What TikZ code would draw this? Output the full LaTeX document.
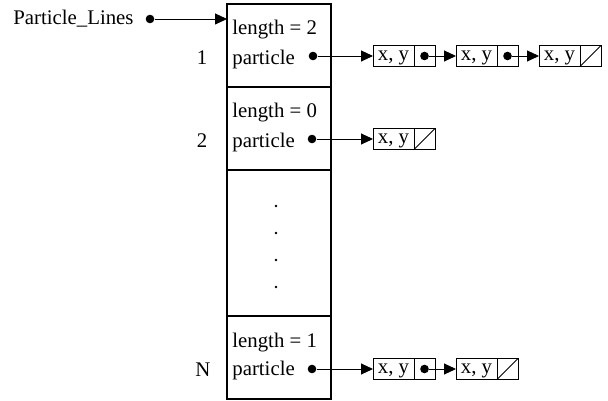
\documentclass[tikz,border=0pt]{standalone}
\usepackage{fontspec}
\setmainfont{Liberation Serif}
\usetikzlibrary{arrows.meta,positioning}
\tikzset{
  rowbox/.style={draw, line width=0.6pt, minimum width=52pt, minimum height=41.5pt, inner sep=0pt, outer sep=0pt},
  xycell/.style={draw, line width=0.45pt, minimum width=20.5pt, minimum height=10.5pt, inner sep=0pt, outer sep=0pt, text depth=0pt},
  ptrcell/.style={draw, line width=0.45pt, minimum width=10.5pt, minimum height=10.5pt, inner sep=0pt, outer sep=0pt},
  ptrdot/.style={circle, fill, inner sep=0pt, minimum size=4.3pt},
  link/.style={line width=0.45pt, -{Triangle[length=6pt, width=5.5pt]}}
}

\begin{document}
\begin{tikzpicture}[x=0.5pt, y=-0.5pt, font=\fontsize{10.4}{12}\selectfont]
    \useasboundingbox (0,0) rectangle (608,400);

    % the array of lines
    \node[rowbox, anchor=north west] (row1) at (227,4) {};
    \node[rowbox, below=0pt of row1] (row2) {};
    \node[rowbox, minimum height=73pt, below=0pt of row2] (rowdots) {};
    \node[rowbox, below=0pt of rowdots] (rowN) {};

    \node[anchor=base west, inner sep=0pt] (plines) at (13,25) {Particle\_Lines};
    \node[ptrdot] (src) at (150,19) {};
    \draw[link] (src) -- (src -| row1.west);

    % line 1
    \node[anchor=base west, inner sep=0pt] (len1) at (232,35) {length = 2};
    \node[anchor=base west, inner sep=0pt] (par1) at (232,65) {particle};
    \node[anchor=base, inner sep=0pt] (lab1) at (202,65) {1};
    \node[ptrdot] (p1) at (313,56) {};

    \node[xycell, anchor=west] (c11) at (373,56) {x, y};
    \node[ptrcell, right=0pt of c11] (c11p) {};
    \node[ptrdot] (d11) at (c11p) {};
    \node[xycell, anchor=west] (c12) at (456,56) {x, y};
    \node[ptrcell, right=0pt of c12] (c12p) {};
    \node[ptrdot] (d12) at (c12p) {};
    \node[xycell, anchor=west] (c13) at (539,56) {x, y};
    \node[ptrcell, right=0pt of c13] (c13p) {};
    \draw[line width=0.45pt] (c13p.south west) -- (c13p.north east);

    \draw[link] (p1) -- (c11);
    \draw[link] (d11) -- (c12);
    \draw[link] (d12) -- (c13);

    % line 2
    \node[anchor=base west, inner sep=0pt] (len2) at (232,118) {length = 0};
    \node[anchor=base west, inner sep=0pt] (par2) at (232,148) {particle};
    \node[anchor=base, inner sep=0pt] (lab2) at (202,148) {2};
    \node[ptrdot] (p2) at (312,139) {};

    \node[xycell, anchor=west] (c21) at (373,139) {x, y};
    \node[ptrcell, right=0pt of c21] (c21p) {};
    \draw[line width=0.45pt] (c21p.south west) -- (c21p.north east);

    \draw[link] (p2) -- (c21);

    % vertical dots
    \fill (276,206) circle[radius=0.7pt];
    \fill (276,233) circle[radius=0.7pt];
    \fill (276,260) circle[radius=0.7pt];
    \fill (276,287) circle[radius=0.7pt];

    % line N
    \node[anchor=base west, inner sep=0pt] (lenN) at (232,347) {length = 1};
    \node[anchor=base west, inner sep=0pt] (parN) at (232,375) {particle};
    \node[anchor=base, inner sep=0pt] (labN) at (203,376) {N};
    \node[ptrdot] (pN) at (312,369) {};

    \node[xycell, anchor=west] (cN1) at (373,369) {x, y};
    \node[ptrcell, right=0pt of cN1] (cN1p) {};
    \node[ptrdot] (dN1) at (cN1p) {};
    \node[xycell, anchor=west] (cN2) at (456,369) {x, y};
    \node[ptrcell, right=0pt of cN2] (cN2p) {};
    \draw[line width=0.45pt] (cN2p.south west) -- (cN2p.north east);

    \draw[link] (pN) -- (cN1);
    \draw[link] (dN1) -- (cN2);
\end{tikzpicture}
\end{document}
